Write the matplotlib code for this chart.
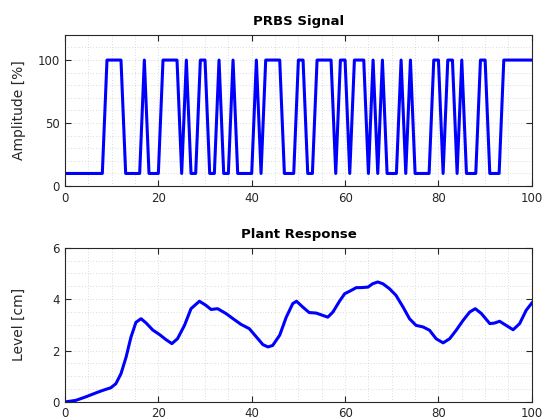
import numpy as np
import matplotlib
matplotlib.use('Agg')
import matplotlib.pyplot as plt
from matplotlib.ticker import MultipleLocator

# PRBS input, one sample per second (10 % low, 100 % high)
prbs_t = list(range(0, 101))
prbs_high = [9, 10, 11, 12, 17, 21, 22, 23, 24, 26, 29, 30, 33, 36, 41,
             43, 44, 45, 46, 50, 51, 54, 55, 56, 57, 59, 60, 62, 63, 64,
             66, 68, 72, 74, 79, 80, 82, 83, 85, 89, 90,
             94, 95, 96, 97, 98, 99, 100]
prbs_u = [100 if k in prbs_high else 10 for k in prbs_t]

# plant response
resp_t = [0, 2.3, 4.5, 6.6, 8.1, 9.8, 10.9, 12, 13.1, 14.1, 15.2, 16.3,
          17.4, 18.8, 20.2, 21.6, 22.9, 24.1, 25.6, 27, 28.8, 30.2, 31.3,
          32.7, 34.5, 36, 37.7, 39.5, 41, 42.4, 43.5, 44.5, 46, 47.4, 48.8,
          49.6, 50.9, 52.3, 53.8, 55.2, 56.3, 57.4, 58.8, 59.9, 61.3, 62.4,
          63.4, 64.9, 65.9, 67, 68.1, 69.5, 70.9, 72.4, 73.8, 75.2, 76.7,
          78.1, 79.5, 81, 82.4, 83.8, 85.3, 86.7, 87.9, 89.2, 91, 92, 93.1,
          94.5, 96, 97.4, 98.8, 100]
resp_y = [0, 0.06, 0.2, 0.35, 0.45, 0.55, 0.71, 1.1, 1.75, 2.5, 3.1, 3.24,
          3.07, 2.8, 2.63, 2.43, 2.27, 2.46, 2.98, 3.63, 3.92, 3.76, 3.6,
          3.63, 3.44, 3.24, 3.02, 2.85, 2.53, 2.23, 2.14, 2.2, 2.6, 3.3, 3.83,
          3.92, 3.7, 3.48, 3.46, 3.37, 3.3, 3.5, 3.92, 4.21, 4.34, 4.45,
          4.45, 4.47, 4.6, 4.67, 4.6, 4.41, 4.15, 3.7, 3.24, 2.98, 2.92,
          2.79, 2.46, 2.3, 2.46, 2.79, 3.18, 3.5, 3.63, 3.44, 3.05, 3.07, 3.14,
          2.98, 2.81, 3.05, 3.57, 3.85]

plt.rcParams['font.family'] = 'DejaVu Sans'
dark = '#262626'

fig = plt.figure(figsize=(5.46, 4.2), dpi=100)
ax1 = fig.add_axes([0.119, 0.557, 0.855, 0.360])
ax2 = fig.add_axes([0.119, 0.043, 0.855, 0.367])


def style(ax, ymin, ymax, ymaj, ymin_step):
	ax.set_xlim(0, 100)
	ax.set_ylim(ymin, ymax)
	ax.xaxis.set_major_locator(MultipleLocator(20))
	ax.xaxis.set_minor_locator(MultipleLocator(5))
	ax.yaxis.set_major_locator(MultipleLocator(ymaj))
	ax.yaxis.set_minor_locator(MultipleLocator(ymin_step))
	ax.grid(True, which='both', linestyle=(0, (1, 3)), color='#bcbcbc', linewidth=0.5)
	ax.tick_params(which='both', direction='in', top=True, right=True,
	               colors=dark, labelsize=8.5)
	ax.tick_params(axis='x', pad=4)
	ax.tick_params(which='minor', length=0)
	ax.tick_params(which='major', length=4)
	for s in ax.spines.values():
		s.set_color(dark)
		s.set_linewidth(0.8)
	ax.set_axisbelow(True)
	ax.yaxis.set_label_coords(-0.084, 0.5)


ax1.plot(prbs_t, prbs_u, color='#0000ff', linewidth=2.2)
style(ax1, 0, 120, 50, 10)
ax1.set_title('PRBS Signal', fontsize=9.5, fontweight='bold', color='black', pad=7)
ax1.set_ylabel('Amplitude [%]', fontsize=10, color=dark)

ax2.plot(resp_t, resp_y, color='#0000ff', linewidth=2.2)
style(ax2, 0, 6, 2, 0.5)
ax2.set_title('Plant Response', fontsize=9.5, fontweight='bold', color='black', pad=7)
ax2.set_ylabel('Level [cm]', fontsize=10, color=dark)

fig.savefig('out.png', dpi=100)
